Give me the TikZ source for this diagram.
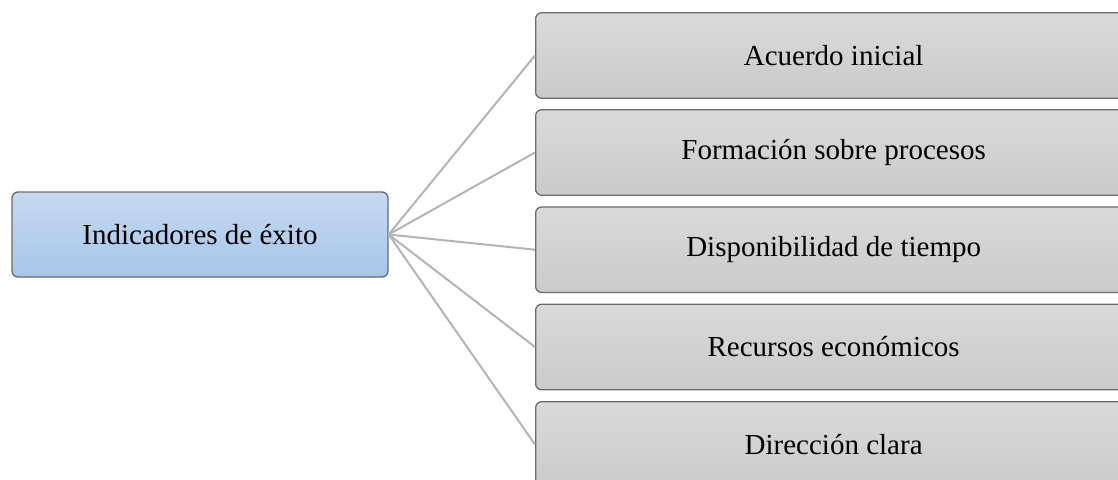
\documentclass[tikz,border=0pt]{standalone}
\usepackage{fontspec}
\setmainfont{Liberation Serif}
\begin{document}
\begin{tikzpicture}[x=1pt,y=-1pt,
  every node/.style={font=\fontsize{29}{34}\selectfont, text=black, inner sep=0pt},
  rootbox/.style={draw=black!58, line width=1.3pt, rounded corners=6pt,
    top color={rgb,255:red,198;green,217;blue,240}, bottom color={rgb,255:red,166;green,198;blue,234},
    minimum width=376pt, minimum height=85pt},
  itembox/.style={draw=black!58, line width=1.3pt, rounded corners=6pt,
    top color={rgb,255:red,218;green,218;blue,218}, bottom color={rgb,255:red,202;green,202;blue,202},
    minimum width=596pt, minimum height=85.5pt, anchor=west},
  link/.style={draw={rgb,255:red,180;green,180;blue,180}, line width=2pt}
]
\useasboundingbox (0,0) rectangle (1118,479);
\begin{scope}
\clip (0,0) rectangle (1118,479);

\node[rootbox] (root) at (200,234.5) {Indicadores de éxito};

\node[itembox] (a) at (535,55.5)  {Acuerdo inicial};
\node[itembox] (b) at (535,152.5) {Formación sobre procesos};
\node[itembox] (c) at (535,249.7) {Disponibilidad de tiempo};
\node[itembox] (d) at (535,347)   {Recursos económicos};
\node[itembox] (e) at (535,444.5) {Dirección clara};

% fan of connectors from the root to every item
\foreach \t in {a,b,c,d,e}
  \draw[link] (root.east) -- (\t.west);
\end{scope}
\end{tikzpicture}
\end{document}
